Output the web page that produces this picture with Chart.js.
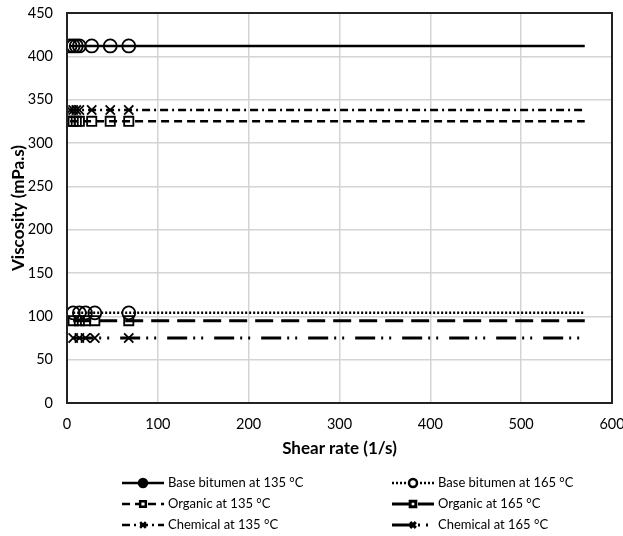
<!DOCTYPE html>
<html>
<head>
<meta charset="utf-8">
<script src="https://cdn.jsdelivr.net/npm/chart.js@4.4.1/dist/chart.umd.min.js"></script>
<style>
  html, body { margin: 0; padding: 0; background: #fff; }
  #wrap { width: 623px; height: 536px; }
</style>
</head>
<body>
<div id="wrap"><canvas id="viscChart" width="623" height="536"></canvas></div>
<script>
// Shear rates (1/s) of the measured points, last one is the end of the line
const shearRate135 = [3.4, 6.8, 10.2, 13.6, 27.2, 47.6, 68, 570];
const shearRate165 = [6.8, 13.6, 20.4, 30.6, 68, 570];

// Viscosity (mPa.s)
const baseBitumen135 = [412, 412, 412, 412, 412, 412, 412, 412];
const organic135 = [325, 325, 325, 325, 325, 325, 325, 325];
const chemical135 = [338, 338, 338, 338, 338, 338, 338, 338];
const baseBitumen165 = [104, 104, 104, 104, 104, 104];
const organic165 = [95, 95, 95, 95, 95, 95];
const chemical165 = [75, 75, 75, 75, 75, 75];

const xTicks = [0, 100, 200, 300, 400, 500, 600];
const yTicks = [0, 50, 100, 150, 200, 250, 300, 350, 400, 450];

const FONT = "Lato, 'Open Sans', sans-serif";

function pts(xs, ys) {
    return xs.map((x, i) => ({ x: x, y: ys[i] }));
}

function series(label, xs, ys, dash, width, style, legendFill) {
    const last = xs.length - 1;
    return {
        label: label,
        data: pts(xs, ys),
        borderColor: "#000",
        borderWidth: width,
        borderDash: dash,
        pointStyle: style,
        pointRadius: ctx => ctx.dataIndex === last ? 0 : 6.5,
        pointBorderWidth: 1.8,
        pointBorderColor: "#000",
        pointBackgroundColor: "rgba(0,0,0,0)",
        legendFill: legendFill,
        tension: 0
    };
}

const datasets = [
    series("Base bitumen at 135 \u00b0C", shearRate135, baseBitumen135, [], 2.5, "circle", true),
    series("Base bitumen at 165 \u00b0C", shearRate165, baseBitumen165, [2, 2], 2.5, "circle", false),
    series("Organic at 135 \u00b0C", shearRate135, organic135, [8, 5], 2.5, "rect", false),
    series("Organic at 165 \u00b0C", shearRate165, organic165, [18, 8], 3, "rect", false),
    series("Chemical at 135 \u00b0C", shearRate135, chemical135, [8, 4, 2, 4], 2.5, "crossRot", false),
    series("Chemical at 165 \u00b0C", shearRate165, chemical165, [20, 6, 2, 6, 2, 11], 3, "crossRot", false)
];

// frame round the plot area
const frame = {
    id: "frame",
    afterDatasetsDraw(chart) {
        const a = chart.chartArea;
        const c = chart.ctx;
        c.save();
        c.strokeStyle = "#222";
        c.lineWidth = 2;
        c.strokeRect(a.left, a.top, a.right - a.left, a.bottom - a.top);
        c.restore();
    }
};

// two column legend under the axis title
const legendCols = [122, 392];
const legendRows = [483, 504, 525];
const bottomLegend = {
    id: "bottomLegend",
    afterDraw(chart) {
        const c = chart.ctx;
        c.save();
        chart.data.datasets.forEach((ds, i) => {
            const x = legendCols[i % 2];
            const y = legendRows[Math.floor(i / 2)];
            c.strokeStyle = "#000";
            c.lineWidth = ds.borderWidth;
            c.setLineDash(ds.borderDash);
            c.beginPath();
            c.moveTo(x, y);
            c.lineTo(x + 42, y);
            c.stroke();
            c.setLineDash([]);
            c.fillStyle = ds.legendFill ? "#000" : "#fff";
            Chart.helpers.drawPoint(c, {
                pointStyle: ds.pointStyle,
                radius: 4,
                borderWidth: 1.5,
                rotation: 0
            }, x + 21, y);
            c.fillStyle = "#000";
            c.font = "13px " + FONT;
            c.textBaseline = "middle";
            c.fillText(ds.label, x + 46, y);
        });
        c.restore();
    }
};

new Chart(document.getElementById("viscChart"), {
    type: "line",
    data: { datasets: datasets },
    options: {
        responsive: false,
        animation: false,
        layout: { padding: { top: 13, right: 11, left: 0, bottom: 77 } },
        plugins: {
            legend: { display: false },
            tooltip: { enabled: false }
        },
        scales: {
            x: {
                type: "linear",
                min: 0,
                max: 600,
                afterBuildTicks: axis => { axis.ticks = xTicks.map(v => ({ value: v })); },
                afterFit: axis => {
                    axis.height = 56;
                    axis.paddingLeft = 0;
                    axis.paddingRight = 0;
                },
                grid: { color: "#d4d4d4", lineWidth: 1.5, drawTicks: false },
                border: { display: false },
                ticks: { color: "#000", font: { family: FONT, size: 14.5 }, padding: 13 },
                title: {
                    display: true,
                    text: "Shear rate (1/s)",
                    color: "#000",
                    font: { family: FONT, size: 17, weight: "bold" },
                    padding: { top: 7, bottom: 0 }
                }
            },
            y: {
                type: "linear",
                min: 0,
                max: 450,
                afterBuildTicks: axis => { axis.ticks = yTicks.map(v => ({ value: v })); },
                afterFit: axis => {
                    axis.width = 67;
                    axis.paddingTop = 0;
                    axis.paddingBottom = 0;
                },
                grid: { color: "#d4d4d4", lineWidth: 1.5, drawTicks: false },
                border: { display: false },
                ticks: { color: "#000", font: { family: FONT, size: 14.5 }, padding: 14 },
                title: {
                    display: true,
                    text: "Viscosity (mPa.s)",
                    color: "#000",
                    font: { family: FONT, size: 17, weight: "bold" },
                    padding: { top: 8, bottom: 0 }
                }
            }
        }
    },
    plugins: [frame, bottomLegend]
});
</script>
</body>
</html>
